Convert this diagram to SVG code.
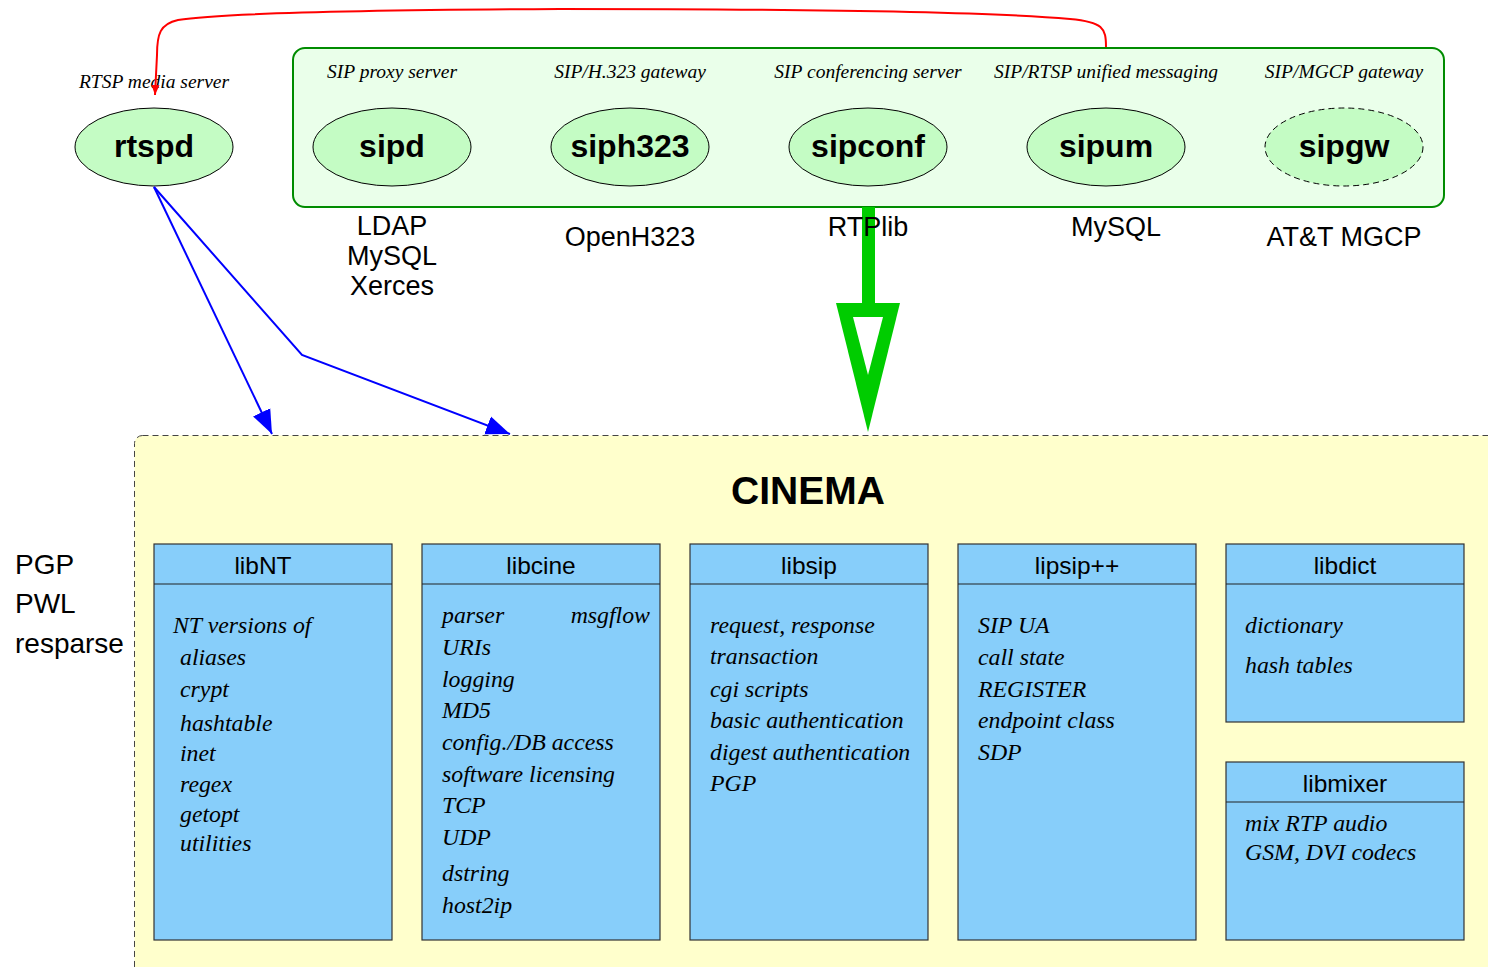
<svg xmlns="http://www.w3.org/2000/svg" width="1488" height="967" viewBox="0 0 1488 967">
<defs>
<marker id="blueHead" markerUnits="userSpaceOnUse" markerWidth="26" markerHeight="22" viewBox="0 -11 26 22" refX="24" refY="0" orient="auto"><path d="M0,-9.5 L24,0 L0,9.5 z" fill="#0000ff"/></marker>
<marker id="redHead" markerUnits="userSpaceOnUse" markerWidth="12" markerHeight="10" viewBox="0 -5 12 10" refX="10" refY="0" orient="auto"><path d="M0,-4 L10,0 L0,4 z" fill="#ff0000"/></marker>
</defs>
<style>
.node ellipse{fill:#c4fcc4;stroke:#000;stroke-width:1}
.nlabel{font-family:"Liberation Sans",Arial,sans-serif;font-weight:bold;font-size:32px;text-anchor:middle;fill:#000}
.role{font-family:"Liberation Serif","Times New Roman",serif;font-style:italic;font-size:19.5px;text-anchor:middle;fill:#000}
.dep{font-family:"Liberation Sans",Arial,sans-serif;font-size:27px;text-anchor:middle;fill:#000}
.side{font-family:"Liberation Sans",Arial,sans-serif;font-size:28px;fill:#000}
.lib rect{fill:#87cefa;stroke:#333;stroke-width:1.2}
.lib line{stroke:#222;stroke-width:1.2}
.ltitle{font-family:"Liberation Sans",Arial,sans-serif;font-size:24.5px;text-anchor:middle;fill:#000}
.item{font-family:"Liberation Serif","Times New Roman",serif;font-style:italic;font-size:23.8px;fill:#000}
.blue{fill:none;stroke:#0000ff;stroke-width:2;marker-end:url(#blueHead)}
.red{fill:none;stroke:#ff0000;stroke-width:2;marker-end:url(#redHead)}
</style>

<g id="cinema">
<rect x="134.5" y="435.5" width="1420" height="620" rx="8" fill="#ffffcc" stroke="#444" stroke-width="1" stroke-dasharray="6,4"/>
<text x="808" y="504" font-family="Liberation Sans,Arial,sans-serif" font-weight="bold" font-size="39" text-anchor="middle">CINEMA</text>
</g>

<g id="sipservers">
<rect x="293" y="48" width="1151" height="159" rx="12" fill="#eaffea" stroke="#008c00" stroke-width="2"/>
</g>

<g id="rtspd" class="node">
<text class="role" x="154" y="88">RTSP media server</text>
<ellipse cx="154" cy="147" rx="79" ry="39"/>
<text class="nlabel" x="154" y="157">rtspd</text>
</g>
<g id="sipd" class="node">
<text class="role" x="392" y="78">SIP proxy server</text>
<ellipse cx="392" cy="147" rx="79" ry="39"/>
<text class="nlabel" x="392" y="157">sipd</text>
<text class="dep" x="392" y="235">LDAP</text>
<text class="dep" x="392" y="265">MySQL</text>
<text class="dep" x="392" y="295">Xerces</text>
</g>
<g id="siph323" class="node">
<text class="role" x="630" y="78">SIP/H.323 gateway</text>
<ellipse cx="630" cy="147" rx="79" ry="39"/>
<text class="nlabel" x="630" y="157">siph323</text>
<text class="dep" x="630" y="246">OpenH323</text>
</g>
<g id="sipconf" class="node">
<text class="role" x="868" y="78">SIP conferencing server</text>
<ellipse cx="868" cy="147" rx="79" ry="39"/>
<text class="nlabel" x="868" y="157">sipconf</text>
</g>
<g id="sipum" class="node">
<text class="role" x="1106" y="78">SIP/RTSP unified messaging</text>
<ellipse cx="1106" cy="147" rx="79" ry="39"/>
<text class="nlabel" x="1106" y="157">sipum</text>
<text class="dep" x="1116" y="236">MySQL</text>
</g>
<g id="sipgw" class="node">
<text class="role" x="1344" y="78">SIP/MGCP gateway</text>
<ellipse cx="1344" cy="147" rx="79" ry="39" stroke-dasharray="6,4"/>
<text class="nlabel" x="1344" y="157">sipgw</text>
<text class="dep" x="1344" y="246">AT&amp;T MGCP</text>
</g>

<g id="sidelabels">
<text class="side" x="15" y="574">PGP</text>
<text class="side" x="15" y="613">PWL</text>
<text class="side" x="15" y="653">resparse</text>
</g>

<g id="libNT" class="lib">
<rect x="154" y="544" width="238" height="396"/>
<line x1="154" y1="584" x2="392" y2="584"/>
<text class="ltitle" x="263" y="574">libNT</text>
<text class="item" x="173" y="633">NT versions of</text>
<text class="item" x="180" y="665">aliases</text>
<text class="item" x="180" y="697">crypt</text>
<text class="item" x="180" y="731">hashtable</text>
<text class="item" x="180" y="761">inet</text>
<text class="item" x="180" y="792">regex</text>
<text class="item" x="180" y="822">getopt</text>
<text class="item" x="180" y="851">utilities</text>
</g>
<g id="libcine" class="lib">
<rect x="422" y="544" width="238" height="396"/>
<line x1="422" y1="584" x2="660" y2="584"/>
<text class="ltitle" x="541" y="574">libcine</text>
<text class="item" x="442" y="623">parser</text>
<text class="item" x="650" y="623" text-anchor="end">msgflow</text>
<text class="item" x="442" y="655">URIs</text>
<text class="item" x="442" y="687">logging</text>
<text class="item" x="442" y="718">MD5</text>
<text class="item" x="442" y="750">config./DB access</text>
<text class="item" x="442" y="782">software licensing</text>
<text class="item" x="442" y="813">TCP</text>
<text class="item" x="442" y="845">UDP</text>
<text class="item" x="442" y="881">dstring</text>
<text class="item" x="442" y="913">host2ip</text>
</g>
<g id="libsip" class="lib">
<rect x="690" y="544" width="238" height="396"/>
<line x1="690" y1="584" x2="928" y2="584"/>
<text class="ltitle" x="809" y="574">libsip</text>
<text class="item" x="710" y="633">request, response</text>
<text class="item" x="710" y="664">transaction</text>
<text class="item" x="710" y="697">cgi scripts</text>
<text class="item" x="710" y="728">basic authentication</text>
<text class="item" x="710" y="760">digest authentication</text>
<text class="item" x="710" y="791">PGP</text>
</g>
<g id="lipsippp" class="lib">
<rect x="958" y="544" width="238" height="396"/>
<line x1="958" y1="584" x2="1196" y2="584"/>
<text class="ltitle" x="1077" y="574">lipsip++</text>
<text class="item" x="978" y="633">SIP UA</text>
<text class="item" x="978" y="665">call state</text>
<text class="item" x="978" y="697">REGISTER</text>
<text class="item" x="978" y="728">endpoint class</text>
<text class="item" x="978" y="760">SDP</text>
</g>
<g id="libdict" class="lib">
<rect x="1226" y="544" width="238" height="178"/>
<line x1="1226" y1="584" x2="1464" y2="584"/>
<text class="ltitle" x="1345" y="574">libdict</text>
<text class="item" x="1245" y="633">dictionary</text>
<text class="item" x="1245" y="673">hash tables</text>
</g>
<g id="libmixer" class="lib">
<rect x="1226" y="762" width="238" height="178"/>
<line x1="1226" y1="802" x2="1464" y2="802"/>
<text class="ltitle" x="1345" y="792">libmixer</text>
<text class="item" x="1245" y="831">mix RTP audio</text>
<text class="item" x="1245" y="860">GSM, DVI codecs</text>
</g>

<g id="connectors">
<path class="red" d="M1106,47 C1106,28 1103,22 1070,19 C980,11 760,9 560,9 C380,10 220,13 178,20 C160,24 157,34 157,55 L155,95"/>
<path class="blue" d="M154,187 L272,434"/>
<path class="blue" d="M154,187 L302,355 L510,434"/>
<g id="rtplib-arrow">
<rect x="862" y="207" width="13" height="100" fill="#00cc00"/>
<polygon points="836,303 900,303 868,432" fill="#00cc00"/>
<polygon points="853,317 883,317 868,375" fill="#ffffff"/>
</g>
</g>

<g id="sipconf-deps">
<text class="dep" x="868" y="236">RTPlib</text>
</g>
</svg>
